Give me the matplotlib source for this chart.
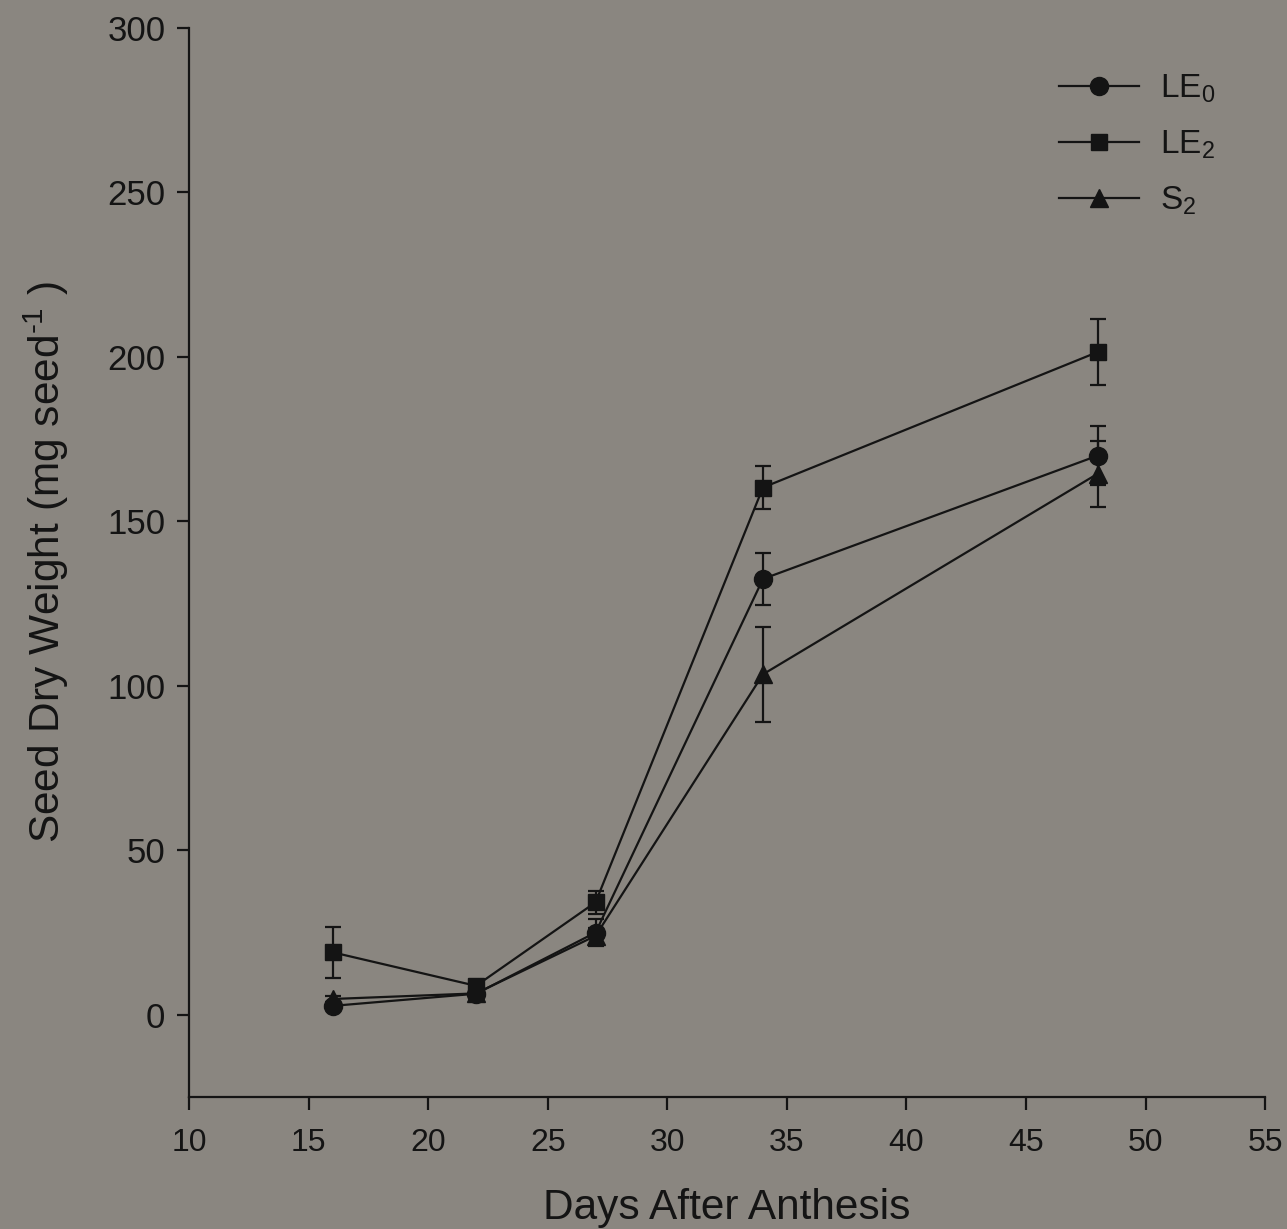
import matplotlib
matplotlib.use("Agg")
import matplotlib.pyplot as plt
from matplotlib.lines import Line2D

plt.rcParams['font.family'] = ['Liberation Sans', 'DejaVu Sans']
plt.rcParams['mathtext.fontset'] = 'custom'
plt.rcParams['mathtext.rm'] = 'Liberation Sans'
plt.rcParams['mathtext.it'] = 'Liberation Sans'
plt.rcParams['mathtext.default'] = 'regular'

days = [16, 22, 27, 34, 48]
le0 = [2.7, 6.4, 25.0, 132.5, 170.0]
le0_err = [0.8, 0.8, 4.0, 8.0, 9.0]
le2 = [19.0, 8.8, 34.2, 160.3, 201.5]
le2_err = [7.7, 0.8, 3.5, 6.5, 10.0]
s2 = [4.8, 6.5, 24.0, 103.5, 164.5]
s2_err = [0.8, 0.8, 2.5, 14.5, 10.0]

labels = ['LE$_0$', 'LE$_2$', 'S$_2$']
markers = ['o', 's', '^']
msizes = [13, 12, 13]

bg = '#8a8680'
ink = '#141414'

fig = plt.figure(figsize=(12.87, 12.29), dpi=100, facecolor=bg)
ax = fig.add_axes([0.1469, 0.1074, 0.8361, 0.8698], facecolor=bg)

handles = []
for y, e, lab, m, ms in zip([le0, le2, s2], [le0_err, le2_err, s2_err], labels, markers, msizes):
    ax.errorbar(days, y, yerr=e, color=ink, marker=m, markersize=ms, lw=1.6,
                elinewidth=1.6, capsize=5.5, capthick=1.6)
    handles.append(Line2D([], [], color=ink, marker=m, markersize=ms, lw=1.6, label=lab))

ax.set_xlim(10, 55)
ax.set_ylim(-25, 300)
ax.set_xticks(range(10, 56, 5))
ax.set_yticks(range(0, 301, 50))
for s in ['top', 'right']:
    ax.spines[s].set_visible(False)
for s in ['left', 'bottom']:
    ax.spines[s].set_linewidth(1.6)
    ax.spines[s].set_color(ink)
ax.tick_params(axis='x', direction='out', length=9, width=1.6, colors=ink, labelsize=23, pad=13)
ax.tick_params(axis='y', direction='out', length=9, width=1.6, colors=ink, labelsize=25, pad=8)

ax.set_xlabel('Days After Anthesis', fontsize=30.5, color=ink, labelpad=22)
ax.set_ylabel('Seed Dry Weight (mg seed$^{\\text{-1}}$ )', fontsize=30.5, color=ink, labelpad=26)

leg = ax.legend(handles=handles, loc='upper right', bbox_to_anchor=(0.982, 0.986), frameon=False,
                fontsize=24, handlelength=2.4, handletextpad=0.65, labelspacing=0.7,
                labelcolor=ink)

fig.savefig('out.png', dpi=100, facecolor=bg)
